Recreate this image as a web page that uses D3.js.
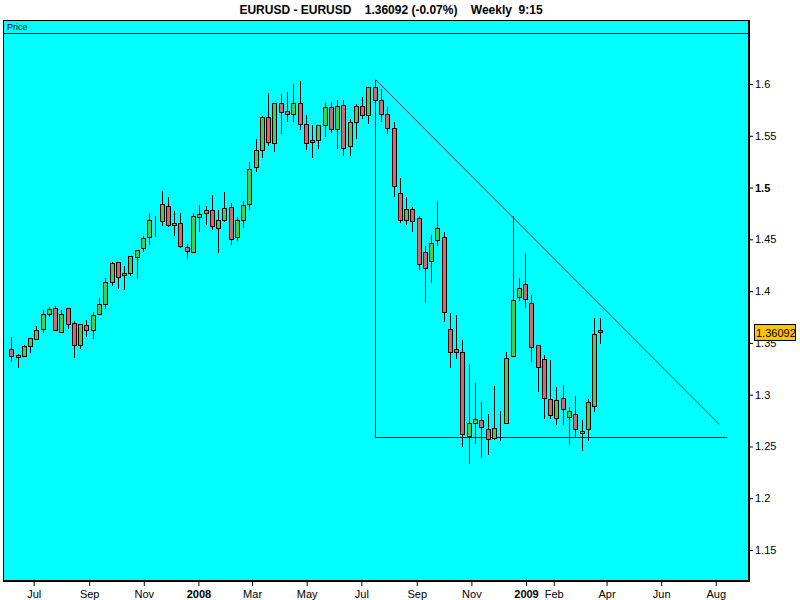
<!DOCTYPE html>
<html>
<head>
<meta charset="utf-8">
<script src="https://cdn.jsdelivr.net/npm/d3@7"></script>
<style>
body { margin: 0; background: #fff; }
text { font-family: "Liberation Sans", Arial, sans-serif; }
</style>
</head>
<body>
<svg id="chart" width="800" height="600"></svg>
<script>
// weekly EURUSD candles, Jun 2007 - Mar 2009
var firstWeek = "2007-06-06";
var opens = [1.3438,1.3361,1.3376,1.3467,1.3541,1.3631,1.3776,1.3834,1.3608,1.3834,
  1.3689,1.3477,1.3670,1.3627,1.3776,1.3873,1.4091,1.4278,1.4153,1.4172,
  1.4327,1.4414,1.4520,1.4665,1.4675,1.4819,1.4636,1.4655,1.4423,1.4375,
  1.4713,1.4752,1.4780,1.4607,1.4684,1.4809,1.4520,1.4684,1.4838,1.5196,
  1.5360,1.5678,1.5427,1.5814,1.5736,1.5707,1.5814,1.5611,1.5456,1.5456,
  1.5601,1.5775,1.5563,1.5794,1.5399,1.5630,1.5785,1.5698,1.5968,1.5843,
  1.5707,1.5572,1.4945,1.4684,1.4790,1.4703,1.4375,1.4288,1.4491,1.4520,
  1.3631,1.3438,1.3409,1.2598,1.2723,1.2752,1.2665,1.2579,1.2705,1.2723,
  1.3371,1.3940,1.4066,1.3882,1.3477,1.3342,1.2955,1.2771,1.2965,1.2780,
  1.2810,1.2627,1.2665,1.2887,1.3621];
var highs = [1.3557,1.3393,1.3477,1.3546,1.3663,1.3818,1.3847,1.3856,1.3818,1.3834,
  1.3708,1.3679,1.3721,1.3796,1.3931,1.4127,1.4281,1.4278,1.4239,1.4336,
  1.4394,1.4529,1.4751,1.4723,1.4964,1.4906,1.4771,1.4751,1.4452,1.4752,
  1.4829,1.4819,1.4925,1.4780,1.4954,1.4848,1.4713,1.4867,1.5244,1.5466,
  1.5688,1.5910,1.5814,1.5901,1.5920,1.5997,1.6026,1.5698,1.5601,1.5601,
  1.5814,1.5823,1.5843,1.5843,1.5659,1.5804,1.5872,1.5968,1.6038,1.5949,
  1.5775,1.5630,1.5090,1.4906,1.4809,1.4722,1.4433,1.4539,1.4867,1.4568,
  1.3786,1.3767,1.3525,1.3293,1.3110,1.2926,1.2810,1.3081,1.2839,1.3409,
  1.4725,1.4124,1.4366,1.3959,1.3477,1.3380,1.3332,1.3071,1.3090,1.2877,
  1.2983,1.2752,1.2955,1.3737,1.3737];
var lows = [1.3318,1.3260,1.3367,1.3405,1.3525,1.3593,1.3747,1.3615,1.3598,1.3634,
  1.3357,1.3444,1.3560,1.3541,1.3766,1.3824,1.4052,1.4025,1.4015,1.4143,
  1.4120,1.4375,1.4442,1.4520,1.4626,1.4622,1.4530,1.4414,1.4307,1.4365,
  1.4568,1.4636,1.4587,1.4365,1.4665,1.4442,1.4481,1.4607,1.4780,1.5147,
  1.5282,1.5398,1.5340,1.5514,1.5630,1.5630,1.5553,1.5360,1.5282,1.5369,
  1.5485,1.5524,1.5369,1.5302,1.5302,1.5466,1.5659,1.5611,1.5800,1.5630,
  1.5514,1.4906,1.4655,1.4636,1.4568,1.4201,1.3882,1.4076,1.4433,1.3699,
  1.3255,1.3342,1.2492,1.2328,1.2521,1.2386,1.2415,1.2560,1.2550,1.2713,
  1.3371,1.3901,1.3834,1.3313,1.3023,1.2762,1.2762,1.2704,1.2704,1.2514,
  1.2589,1.2453,1.2550,1.2829,1.3486];
var closes = [1.3371,1.3380,1.3467,1.3544,1.3622,1.3776,1.3824,1.3627,1.3776,1.3685,
  1.3477,1.3679,1.3627,1.3766,1.3873,1.4085,1.4269,1.4133,1.4172,1.4336,
  1.4394,1.4510,1.4684,1.4670,1.4838,1.4636,1.4655,1.4433,1.4385,1.4723,
  1.4742,1.4780,1.4626,1.4684,1.4800,1.4500,1.4684,1.4829,1.5176,1.5360,
  1.5678,1.5437,1.5814,1.5727,1.5707,1.5814,1.5611,1.5427,1.5437,1.5601,
  1.5775,1.5563,1.5785,1.5379,1.5630,1.5785,1.5698,1.5968,1.5843,1.5707,
  1.5572,1.5012,1.4684,1.4790,1.4674,1.4259,1.4220,1.4462,1.4607,1.3795,
  1.3409,1.3409,1.2617,1.2723,1.2762,1.2685,1.2569,1.2675,1.2709,1.3351,
  1.3911,1.4027,1.3921,1.3457,1.3264,1.2965,1.2800,1.2945,1.2858,1.2838,
  1.2665,1.2646,1.2926,1.3582,1.36092];

var priceTicks = [1.15, 1.2, 1.25, 1.3, 1.35, 1.4, 1.45, 1.5, 1.55, 1.6];
var monthTicks = ["2007-07-01","2007-09-01","2007-11-01","2008-01-01","2008-03-01","2008-05-01",
  "2008-07-01","2008-09-01","2008-11-01","2009-01-01","2009-02-01","2009-04-01","2009-06-01","2009-08-01"];
var monthLabels = ["Jul","Sep","Nov","2008","Mar","May","Jul","Sep","Nov","2009","Feb","Apr","Jun","Aug"];

// drawn lines (resistance / support)
var trendStart = { date: "2008-07-16", price: 1.6045 };
var trendEnd = { date: "2009-08-05", price: 1.2714 };
var supportLevel = 1.2589;
var supportEnd = "2009-08-12";

var titleText = "EURUSD - EURUSD    1.36092 (-0.07%)    Weekly  9:15";
var lastPrice = "1.36092";

var parse = d3.utcParse("%Y-%m-%d");
var start = parse(firstWeek);
var candles = opens.map(function (o, i) {
    return { date: d3.utcWeek.offset(start, i), o: o, h: highs[i], l: lows[i], c: closes[i] };
});

var svg = d3.select("#chart");
var plotLeft = 3, plotRight = 748, plotTop = 20, headerBottom = 33, plotBottom = 580;

var x = d3.scaleUtc()
    .domain([start, candles[candles.length - 1].date])
    .range([11.3, 600.3]);
var y = d3.scaleLinear().domain([1.15, 1.6]).range([550, 84]);

// title
svg.append("text")
    .attr("x", 391).attr("y", 14)
    .attr("text-anchor", "middle")
    .style("white-space", "pre")
    .style("font-size", "12px").style("font-weight", "bold")
    .text(titleText);

// plot panel
svg.append("rect")
    .attr("x", plotLeft + 0.5).attr("y", plotTop + 0.5)
    .attr("width", plotRight - plotLeft).attr("height", plotBottom - plotTop)
    .attr("fill", "#00ffff").attr("stroke", "#000");
svg.append("line")
    .attr("x1", plotLeft).attr("x2", plotRight)
    .attr("y1", headerBottom + 0.5).attr("y2", headerBottom + 0.5)
    .attr("stroke", "#000");
svg.append("line")
    .attr("x1", plotRight + 1.5).attr("x2", plotRight + 1.5)
    .attr("y1", plotTop).attr("y2", plotBottom + 2)
    .attr("stroke", "#000");
svg.append("line")
    .attr("x1", plotLeft).attr("x2", plotRight + 2)
    .attr("y1", plotBottom + 1.5).attr("y2", plotBottom + 1.5)
    .attr("stroke", "#000");
svg.append("text")
    .attr("x", 7).attr("y", 30)
    .style("font-size", "9px")
    .text("Price");

svg.append("clipPath").attr("id", "plotclip")
    .append("rect")
    .attr("x", plotLeft + 1).attr("y", headerBottom + 1)
    .attr("width", plotRight - plotLeft - 1).attr("height", plotBottom - headerBottom - 1);

var plot = svg.append("g").attr("clip-path", "url(#plotclip)");

// trend and support lines
var px = function (d) { return Math.round(x(parse(d))) + 0.5; };
var py = function (p) { return Math.round(y(p)) + 0.5; };
plot.append("line")
    .attr("x1", px(trendStart.date)).attr("y1", py(trendStart.price))
    .attr("x2", px(trendEnd.date)).attr("y2", py(trendEnd.price))
    .attr("stroke", "#000").attr("stroke-width", 0.8);
plot.append("line")
    .attr("x1", px(trendStart.date)).attr("y1", py(trendStart.price))
    .attr("x2", px(trendStart.date)).attr("y2", py(supportLevel))
    .attr("stroke", "#000").attr("shape-rendering", "crispEdges");
plot.append("line")
    .attr("x1", px(trendStart.date)).attr("y1", py(supportLevel))
    .attr("x2", px(supportEnd)).attr("y2", py(supportLevel))
    .attr("stroke", "#000").attr("shape-rendering", "crispEdges");

// candles
var candle = plot.selectAll("g.candle")
    .data(candles)
    .enter().append("g")
    .attr("class", "candle")
    .attr("shape-rendering", "crispEdges");

candle.append("line")
    .attr("x1", function (d) { return Math.round(x(d.date)) + 0.5; })
    .attr("x2", function (d) { return Math.round(x(d.date)) + 0.5; })
    .attr("y1", function (d) { return Math.round(y(d.h)); })
    .attr("y2", function (d) { return Math.round(y(d.l)); })
    .attr("stroke", "#000");

candle.append("rect")
    .attr("x", function (d) { return Math.round(x(d.date)) - 2 + 0.5; })
    .attr("y", function (d) { return Math.round(y(Math.max(d.o, d.c))) + 0.5; })
    .attr("width", 4)
    .attr("height", function (d) {
        return Math.max(0, Math.round(y(Math.min(d.o, d.c))) - Math.round(y(Math.max(d.o, d.c))));
    })
    .attr("fill", function (d) { return d.c >= d.o ? "#50c850" : "#e06262"; })
    .attr("stroke", "#000");

// price axis
var yAxis = svg.append("g")
    .attr("transform", "translate(" + (plotRight + 1) + ",0)")
    .call(d3.axisRight(y).tickValues(priceTicks).tickSize(4).tickPadding(2)
        .tickFormat(d3.format("")));
yAxis.select(".domain").remove();
yAxis.selectAll("text")
    .style("font-size", "11px")
    .style("font-family", "'Liberation Sans', Arial, sans-serif")
    .style("font-weight", function (d) { return d === 1.5 ? "bold" : "normal"; });

// time axis
var xAxis = svg.append("g")
    .attr("transform", "translate(0," + (plotBottom + 2) + ")")
    .call(d3.axisBottom(x).tickValues(monthTicks.map(parse)).tickSize(4).tickPadding(4)
        .tickFormat(function (d, i) { return monthLabels[i]; }));
xAxis.select(".domain").remove();
xAxis.selectAll("text")
    .style("font-size", "11px")
    .style("font-family", "'Liberation Sans', Arial, sans-serif")
    .style("font-weight", function (d, i) { return /^\d+$/.test(monthLabels[i]) ? "bold" : "normal"; });

// last price tag (sits over the 1.35 label, as in the source chart)
var tagY = y(closes[closes.length - 1]);
svg.append("rect")
    .attr("x", 754.5).attr("y", Math.round(tagY) - 7.5)
    .attr("width", 41).attr("height", 16)
    .attr("fill", "#ffc400").attr("stroke", "#000");
svg.append("text")
    .attr("x", 756).attr("y", Math.round(tagY) + 4.5)
    .style("font-size", "11px")
    .text(lastPrice);
</script>
</body>
</html>
